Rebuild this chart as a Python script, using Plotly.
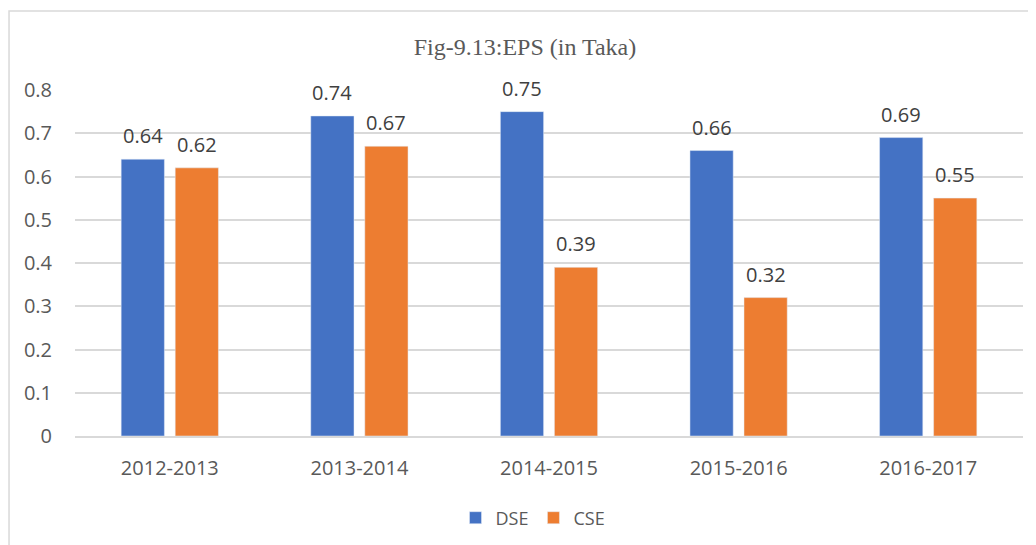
import plotly.graph_objects as go

years = ["2012-2013", "2013-2014", "2014-2015", "2015-2016", "2016-2017"]
dse = [0.64, 0.74, 0.75, 0.66, 0.69]
cse = [0.62, 0.67, 0.39, 0.32, 0.55]

_BLUE = "#4472C4"
_ORANGE = "#ED7D31"
_GRID = "#D9D9D9"
_TICK = "#595959"
_LABEL = "#404040"
_SANS = "Open Sans, Liberation Sans, sans-serif"

# the page body adds an 8px offset, so margins are set 8px short on left/top
fig = go.Figure()
fig.add_trace(go.Bar(name="DSE", x=years, y=dse, marker_color=_BLUE))
fig.add_trace(go.Bar(name="CSE", x=years, y=cse, marker_color=_ORANGE))

# value labels, shifted left/right onto each bar of the pair
for series, shift in ((dse, -27), (cse, 27)):
    for yr, v in zip(years, series):
        fig.add_annotation(
            x=yr, y=v, text=f"{v:.2f}", showarrow=False,
            xshift=shift, yshift=8, yanchor="bottom",
            font=dict(family=_SANS, size=20, color=_LABEL),
        )

# light outer border of the chart box
fig.add_shape(
    type="rect", xref="paper", yref="paper",
    x0=-0.0696, x1=1.1, y0=-0.5, y1=1.228,
    line=dict(color=_GRID, width=1.5), fillcolor="rgba(0,0,0,0)",
    layer="below",
)

fig.update_layout(
    width=1036, height=545,
    paper_bgcolor="white", plot_bgcolor="white",
    margin=dict(l=67, r=21, t=82, b=117, autoexpand=False),
    barmode="group", bargap=0.43, bargroupgap=0.2,
    title=dict(
        text="Fig-9.13:EPS (in Taka)", xref="container", x=517 / 1036,
        xanchor="center", yref="container", y=1 - 39 / 545, yanchor="middle",
        font=dict(family="Liberation Serif, Times New Roman, serif", size=24, color="#595959"),
    ),
    legend=dict(
        orientation="h", xref="container", x=525 / 1036, xanchor="center",
        yref="container", y=1 - 510 / 545, yanchor="middle",
        font=dict(family=_SANS, size=18, color=_TICK),
        itemwidth=30, traceorder="normal",
    ),
    showlegend=True,
)
fig.update_xaxes(
    showgrid=False, showline=True, linecolor=_GRID, linewidth=1.5,
    tickfont=dict(family=_SANS, size=20, color=_TICK),
    ticks="outside", ticklen=13, tickcolor="rgba(0,0,0,0)", automargin=False,
)
fig.update_yaxes(
    range=[0, 0.8], dtick=0.1, showgrid=True, gridcolor=_GRID, gridwidth=1.5,
    zeroline=False, showline=False,
    ticks="outside", ticklen=18, tickcolor="rgba(0,0,0,0)", automargin=False,
    tickfont=dict(family=_SANS, size=20, color=_TICK),
)

fig.write_html("out.html")
